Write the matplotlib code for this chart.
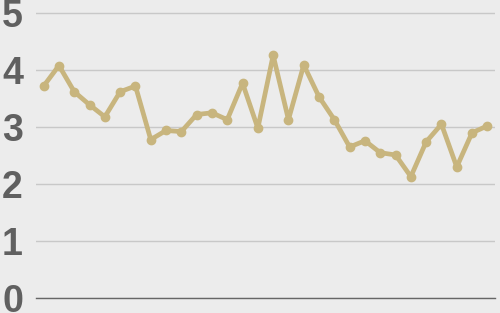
import matplotlib
matplotlib.use('Agg')
import matplotlib.pyplot as plt

# Valores (30 puntos)
x = list(range(30))
values = [3.72, 4.08, 3.62, 3.39, 3.18, 3.62, 3.72, 2.78, 2.94, 2.92,
          3.22, 3.25, 3.13, 3.77, 2.98, 4.26, 3.13, 4.09, 3.53, 3.13,
          2.65, 2.76, 2.55, 2.51, 2.13, 2.74, 3.05, 2.30, 2.90, 3.02]
yticks = [0, 1, 2, 3, 4, 5]

BG = '#ececec'
LINE = '#c8b57e'

fig = plt.figure(figsize=(5, 3.13), dpi=100)
fig.patch.set_facecolor(BG)
ax = fig.add_axes([0.072, 0.048, 0.918, 0.952])
ax.set_facecolor(BG)

ax.plot(x, values, color=LINE, linewidth=3.4, marker='o', markersize=6,
        solid_joinstyle='round', zorder=3)

ax.set_xlim(-0.5, 29.5)
ax.set_ylim(0, 5.23)
ax.set_yticks(yticks)
ax.set_yticklabels([str(t) for t in yticks], fontsize=27, fontweight='bold',
                   color='#606060', family='Liberation Sans')
ax.set_xticks([])
ax.tick_params(axis='y', length=0, pad=14)

ax.grid(axis='y', color='#c8c8c8', linewidth=1)
ax.set_axisbelow(True)
for side in ['top', 'right', 'left']:
    ax.spines[side].set_visible(False)
ax.spines['bottom'].set_color('#666666')
ax.spines['bottom'].set_linewidth(1)

# etiquetas alineadas a la izquierda, como en la referencia
for lbl in ax.get_yticklabels():
    lbl.set_horizontalalignment('left')
    lbl.set_x(-0.072 / 0.918 + 2 / 459)
ax.tick_params(axis='y', pad=0)

fig.savefig('out.png', dpi=100, facecolor=BG)
